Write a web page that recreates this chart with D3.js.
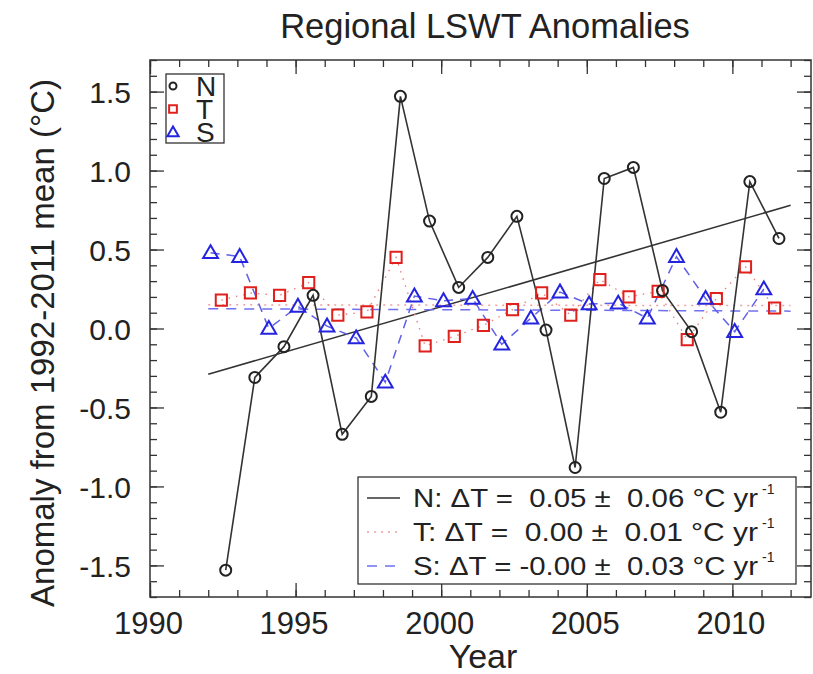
<!DOCTYPE html>
<html><head><meta charset="utf-8">
<script src="https://cdn.jsdelivr.net/npm/d3@7"></script>
<style>body{margin:0;background:#fff}svg{display:block}text{font-family:"Liberation Sans",Arial,sans-serif;fill:#222}</style>
</head><body><svg id="c" width="813" height="674"></svg>
<script>
const years = [1992,1993,1994,1995,1996,1997,1998,1999,2000,2001,2002,2003,2004,2005,2006,2007,2008,2009,2010,2011];
const seriesN = [-1.53,-0.31,-0.115,0.21,-0.67,-0.43,1.47,0.68,0.26,0.45,0.71,-0.01,-0.88,0.95,1.02,0.24,-0.02,-0.53,0.93,0.57];
const seriesT = [0.18,0.225,0.21,0.29,0.085,0.105,0.45,-0.11,-0.05,0.02,0.12,0.225,0.085,0.31,0.2,0.235,-0.07,0.19,0.39,0.13];
const seriesS = [0.48,0.455,0.0,0.14,0.015,-0.06,-0.34,0.205,0.175,0.19,-0.10,0.065,0.23,0.155,0.16,0.065,0.455,0.19,-0.02,0.25];
const trendYears = [1992, 2012];
const trendN = [-0.29, 0.78];
const trendT = [0.15, 0.145];
const trendS = [0.125, 0.11];
const xTicks = [1990,1995,2000,2005,2010];
const yTicks = [-1.5,-1.0,-0.5,0.0,0.5,1.0,1.5];
const legendLabels = ["N","T","S"];
const trendLabels = [
  ["N: \u0394T =  0.05 \u00b1  0.06 \u00b0C yr","-1"],
  ["T: \u0394T =  0.00 \u00b1  0.01 \u00b0C yr","-1"],
  ["S: \u0394T = -0.00 \u00b1  0.03 \u00b0C yr","-1"]
];
const title = "Regional LSWT Anomalies";
const xTitle = "Year";
const yTitle = "Anomaly from 1992-2011 mean (\u00b0C)";

const offN = 0.6, offT = 0.45, offS = 0.08;
const L = 150, R = 811, T = 60, B = 597;
const svg = d3.select("#c");
const x = d3.scaleLinear().domain([1990, 2012.7]).range([L, R]);
const y = d3.scaleLinear().domain([-1.7, 1.7]).range([B, T]);
const axisColor = "#333";
const loc = d3.formatLocale({decimal: ".", thousands: ",", grouping: [3], currency: ["", ""], minus: "-"});

const minorX = d3.range(1990, 2013, 1);
const minorY = d3.range(-17, 18, 1).map(v => v / 10);
function drawAxis(axis, tr) {
  const g = svg.append("g").attr("transform", tr).call(axis);
  g.select(".domain").remove();
  g.selectAll("line").attr("stroke", axisColor).attr("stroke-width", 1.3);
  return g;
}
drawAxis(d3.axisBottom(x).tickValues(minorX).tickSize(-7).tickFormat(""), `translate(0,${B})`);
const gx = drawAxis(d3.axisBottom(x).tickValues(xTicks).tickSize(-14).tickPadding(0).tickFormat(d3.format("d")), `translate(0,${B})`);
gx.selectAll("text").attr("y", 0).attr("dy", 0).attr("transform", "translate(-2,37)").style("font-size", "31px").attr("fill", "#222");
drawAxis(d3.axisTop(x).tickValues(minorX).tickSize(-7).tickFormat(""), `translate(0,${T})`);
drawAxis(d3.axisTop(x).tickValues(xTicks).tickSize(-14).tickFormat(""), `translate(0,${T})`);
drawAxis(d3.axisLeft(y).tickValues(minorY).tickSize(-7).tickFormat(""), `translate(${L},0)`);
const gy = drawAxis(d3.axisLeft(y).tickValues(yTicks).tickSize(-14).tickPadding(0).tickFormat(loc.format(".1f")), `translate(${L},0)`);
gy.selectAll("text").attr("x", -19).attr("dy", "0.36em").style("font-size", "30px").attr("fill", "#222");
drawAxis(d3.axisRight(y).tickValues(minorY).tickSize(-7).tickFormat(""), `translate(${R},0)`);
drawAxis(d3.axisRight(y).tickValues(yTicks).tickSize(-14).tickFormat(""), `translate(${R},0)`);
svg.append("rect").attr("x", L).attr("y", T).attr("width", R - L).attr("height", B - T)
  .attr("fill", "none").attr("stroke", axisColor).attr("stroke-width", 1.5);

// titles
svg.append("text").attr("x", 485).attr("y", 38).attr("text-anchor", "middle").style("font-size", "34.5px").text(title);
svg.append("text").attr("x", 483).attr("y", 668).attr("text-anchor", "middle").style("font-size", "34px").text(xTitle);
svg.append("text").attr("transform", `translate(54,343) rotate(-90)`).attr("text-anchor", "middle").style("font-size", "33px").text(yTitle);

const plot = svg.append("g");
const cN = "#222", cT = "#e0201c", cS = "#2424e0";
const line = d3.line().x(d => x(d[0])).y(d => y(d[1]));

// trend lines
const tr = arr => trendYears.map((t, i) => [t, arr[i]]);
plot.append("path").attr("d", line(tr(trendN))).attr("fill", "none").attr("stroke", "#333").attr("stroke-width", 1.6);
plot.append("path").attr("d", line(tr(trendT))).attr("fill", "none").attr("stroke", "#f0a0a0").attr("stroke-width", 1.5).attr("stroke-dasharray", "2,5");
plot.append("path").attr("d", line(tr(trendS))).attr("fill", "none").attr("stroke", "#7070f0").attr("stroke-width", 1.5).attr("stroke-dasharray", "10,8");

// series lines
const pts = (arr, off) => years.map((t, i) => [t + off, arr[i]]);
plot.append("path").attr("d", line(pts(seriesT, offT))).attr("fill", "none").attr("stroke", "#f08080").attr("stroke-width", 1.4).attr("stroke-dasharray", "1.5,6");
plot.append("path").attr("d", line(pts(seriesS, offS))).attr("fill", "none").attr("stroke", "#6060e8").attr("stroke-width", 1.5).attr("stroke-dasharray", "9,7");
plot.append("path").attr("d", line(pts(seriesN, offN))).attr("fill", "none").attr("stroke", "#333").attr("stroke-width", 1.6);

// markers
const sqSym = d3.symbol().type(d3.symbolSquare).size(125);
const triSym = d3.symbol().type(d3.symbolTriangle).size(95);
plot.selectAll(".sq").data(pts(seriesT, offT)).join("path")
  .attr("transform", d => `translate(${x(d[0])},${y(d[1])})`).attr("d", sqSym())
  .attr("fill", "none").attr("stroke", cT).attr("stroke-width", 2);
plot.selectAll(".tri").data(pts(seriesS, offS)).join("path")
  .attr("transform", d => `translate(${x(d[0])},${y(d[1]) + 1})`).attr("d", triSym())
  .attr("fill", "none").attr("stroke", cS).attr("stroke-width", 2);
plot.selectAll(".ci").data(pts(seriesN, offN)).join("circle")
  .attr("cx", d => x(d[0])).attr("cy", d => y(d[1])).attr("r", 5.5)
  .attr("fill", "none").attr("stroke", cN).attr("stroke-width", 2);

// top-left legend
const lg = svg.append("g");
lg.append("rect").attr("x", 166).attr("y", 74).attr("width", 58).attr("height", 69)
  .attr("fill", "#fff").attr("stroke", axisColor).attr("stroke-width", 1.3);
const rowsY = [86, 109, 132];
lg.append("circle").attr("cx", 173).attr("cy", rowsY[0]).attr("r", 3.5).attr("fill", "none").attr("stroke", cN).attr("stroke-width", 2);
lg.append("path").attr("transform", `translate(173,${rowsY[1]})`).attr("d", d3.symbol().type(d3.symbolSquare).size(60)()).attr("fill", "none").attr("stroke", cT).attr("stroke-width", 2);
lg.append("path").attr("transform", `translate(173,${rowsY[2] + 1})`).attr("d", d3.symbol().type(d3.symbolTriangle).size(55)()).attr("fill", "none").attr("stroke", cS).attr("stroke-width", 2);
legendLabels.forEach((t, i) => {
  lg.append("text").attr("x", 196).attr("y", rowsY[i] + 10).style("font-size", "28px").attr("fill", "#000").text(t);
});

// bottom-right legend
const lg2 = svg.append("g");
lg2.append("rect").attr("x", 358).attr("y", 477).attr("width", 438).attr("height", 107)
  .attr("fill", "#fff").attr("stroke", axisColor).attr("stroke-width", 1.3);
const r2 = [498, 532, 566];
const styles = [["#333", null], ["#f0a0a0", "2,5"], ["#7070f0", "10,8"]];
r2.forEach((yy, i) => {
  const p = lg2.append("line").attr("x1", 367).attr("x2", 400).attr("y1", yy).attr("y2", yy)
    .attr("stroke", styles[i][0]).attr("stroke-width", 1.5);
  if (styles[i][1]) p.attr("stroke-dasharray", styles[i][1]);
  lg2.append("text").attr("x", 413).attr("y", yy + 9).style("font-size", "26px").style("white-space", "pre")
    .attr("textLength", 345).attr("lengthAdjust", "spacingAndGlyphs").text(trendLabels[i][0]);
  lg2.append("text").attr("x", 762).attr("y", yy - 4).style("font-size", "14px").text(trendLabels[i][1]);
});
</script></body></html>
